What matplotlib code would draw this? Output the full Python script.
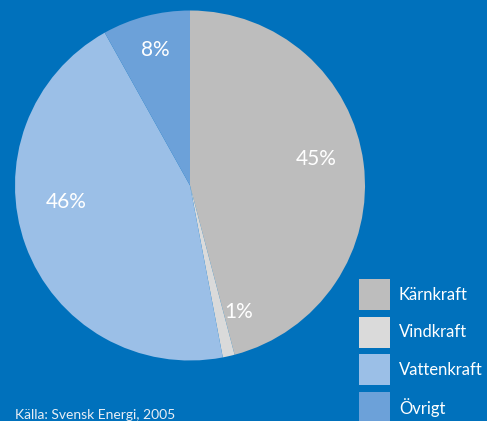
import matplotlib.pyplot as plt
from matplotlib.patches import Rectangle

# electricity production by source
sources = ['Kärnkraft', 'Vindkraft', 'Vattenkraft', 'Övrigt']
shares = [45.9, 1.1, 44.9, 8.1]          # as drawn in the wedges
pct_labels = ['45%', '1%', '46%', '8%']  # as printed on the chart
colors = ['#BDBDBD', '#DADADA', '#9BBFE7', '#6CA1D9']
source_note = 'Källa: Svensk Energi, 2005'

bg = '#0071BC'
W, H = 487, 421

plt.rcParams['font.family'] = ['Lato', 'DejaVu Sans']

fig = plt.figure(figsize=(W / 100, H / 100), dpi=100)
fig.patch.set_facecolor(bg)

# pie centre (190, 185.5) px from top-left, radius 175 px
cx, cy, r = 190, 185.5, 175
ax = fig.add_axes([(cx - r) / W, (H - cy - r) / H, 2 * r / W, 2 * r / H])
ax.set_facecolor(bg)
wedges, _ = ax.pie(shares, colors=colors, startangle=90, counterclock=False,
                   radius=1, wedgeprops={'linewidth': 0})
ax.set_xlim(-1, 1)
ax.set_ylim(-1, 1)
ax.set_aspect('equal')
ax.axis('off')

label_pos = [(0.72, 0.15), (0.28, -0.72), (-0.71, -0.095), (-0.2, 0.775)]
for (x, y), txt in zip(label_pos, pct_labels):
    ax.text(x, y, txt, color='white', fontsize=15, ha='center', va='center')

# legend: 31 px squares, 37.6 px apart, first top at y=279
box, step, top0, left = 31, 37.6, 279, 359
for i, (name, c) in enumerate(zip(sources, colors)):
    top = top0 + i * step
    fig.add_artist(Rectangle((left / W, 1 - (top + box) / H), box / W, box / H,
                             facecolor=c, edgecolor='none',
                             transform=fig.transFigure))
    fig.text((left + box + 9) / W, 1 - (top + box / 2) / H, name,
             color='white', fontsize=12, ha='left', va='center')

fig.text(15 / W, 1 - 419 / H, source_note, color='#E8EEF5', fontsize=10,
         ha='left', va='baseline')

fig.savefig('out.png', dpi=100, facecolor=bg)
